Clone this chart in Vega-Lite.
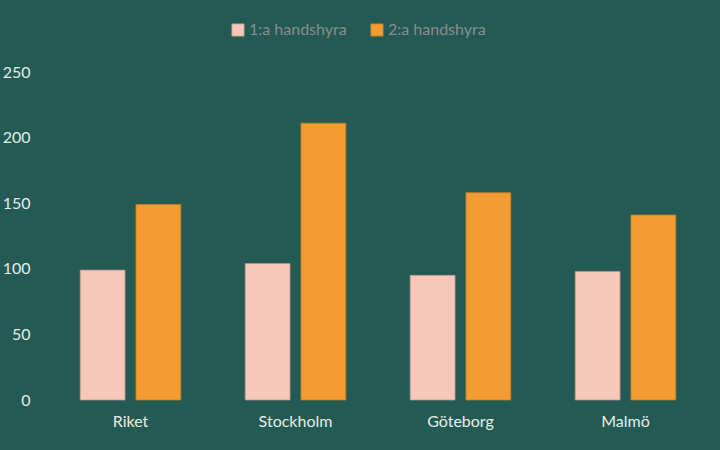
{
  "$schema": "https://vega.github.io/schema/vega-lite/v6.json",
  "autosize": "none",
  "width": 660,
  "height": 328,
  "padding": {"left": 48, "top": 72, "right": 12, "bottom": 50},
  "background": "#235A54",
  "config": {
    "view": {"stroke": null},
    "font": "Lato"
  },
  "data": {
    "values": [
      {"region": "Riket", "serie": "1:a handshyra", "value": 99},
      {"region": "Riket", "serie": "2:a handshyra", "value": 149},
      {"region": "Stockholm", "serie": "1:a handshyra", "value": 104},
      {"region": "Stockholm", "serie": "2:a handshyra", "value": 211},
      {"region": "Göteborg", "serie": "1:a handshyra", "value": 95},
      {"region": "Göteborg", "serie": "2:a handshyra", "value": 158},
      {"region": "Malmö", "serie": "1:a handshyra", "value": 98},
      {"region": "Malmö", "serie": "2:a handshyra", "value": 141}
    ]
  },
  "mark": {"type": "bar", "strokeWidth": 0.8},
  "encoding": {
    "x": {
      "field": "region",
      "type": "nominal",
      "sort": ["Riket", "Stockholm", "Göteborg", "Malmö"],
      "scale": {"paddingInner": 0.39, "paddingOuter": 0.195},
      "axis": {
        "title": null,
        "labelAngle": 0,
        "domain": false,
        "ticks": false,
        "labelColor": "#E4EEE6",
        "labelFontSize": 16,
        "labelPadding": 13
      }
    },
    "xOffset": {
      "field": "serie",
      "type": "nominal",
      "scale": {"paddingInner": 0.196, "paddingOuter": 0}
    },
    "y": {
      "field": "value",
      "type": "quantitative",
      "scale": {"domain": [0, 250]},
      "axis": {
        "title": null,
        "values": [0, 50, 100, 150, 200, 250],
        "grid": false,
        "domain": false,
        "ticks": false,
        "labelColor": "#E4EEE6",
        "labelFontSize": 16,
        "labelPadding": 18
      }
    },
    "color": {
      "field": "serie",
      "type": "nominal",
      "scale": {"domain": ["1:a handshyra", "2:a handshyra"], "range": ["#F7C8B9", "#F39C31"]},
      "legend": {
        "title": null,
        "orient": "none",
        "direction": "horizontal",
        "legendX": 182,
        "legendY": -50,
        "symbolType": "square",
        "symbolSize": 150,
        "symbolOpacity": 1,
        "symbolStrokeWidth": 0.8,
        "labelColor": "#8C8C8C",
        "labelFontSize": 16,
        "labelOffset": 3,
        "columnPadding": 22
      }
    },
    "stroke": {
      "field": "serie",
      "type": "nominal",
      "scale": {"domain": ["1:a handshyra", "2:a handshyra"], "range": ["#B8958A", "#C47B25"]},
      "legend": null
    }
  }
}
